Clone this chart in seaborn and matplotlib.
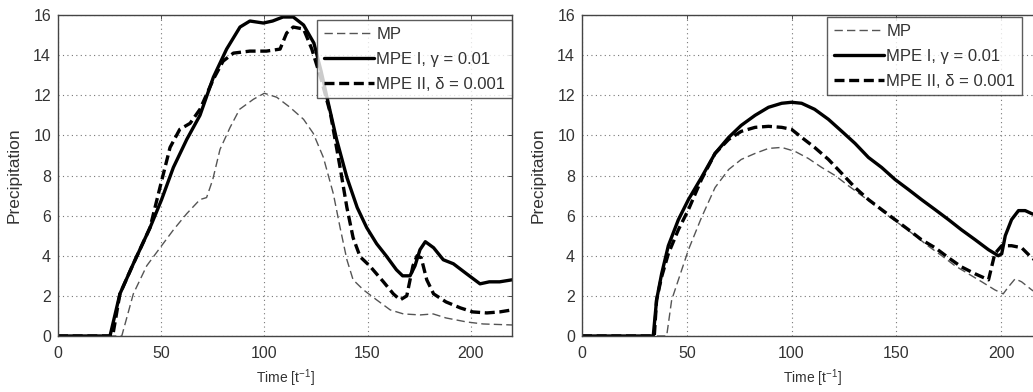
import matplotlib
matplotlib.use("Agg")
import matplotlib.pyplot as plt
import seaborn as sns

# ---------------- data ----------------
# Left panel
L_mp_x = [0, 30.9, 36.5, 43, 50.2, 56, 62.4, 68.8, 72, 75, 78.5, 83.4, 88, 94.7, 100, 106, 112.4, 119,
          123.7, 128.6, 133.4, 136.7, 140, 143, 148, 154.4, 161, 167.4, 175.4, 181.8, 188, 198, 206, 220]
L_mp_y = [0, 0, 2.1, 3.5, 4.5, 5.3, 6.1, 6.8, 6.9, 7.8, 9.3, 10.4, 11.3, 11.8, 12.1, 11.9, 11.4, 10.8,
          10.1, 8.9, 7.1, 5.4, 3.8, 2.8, 2.3, 1.8, 1.3, 1.1, 1.05, 1.1, 0.9, 0.7, 0.6, 0.55]

L_m1_x = [0, 25.2, 30, 36.5, 44.6, 50.2, 55.9, 62.4, 68.8, 75.3, 81.7, 88.2, 93, 99.5, 104, 109, 114,
          119, 124, 127.5, 131, 135, 140, 145, 149.6, 154.4, 159, 164, 167, 170.6, 173, 175.4, 178,
          182, 186.7, 191.6, 198, 204.5, 209, 214, 220]
L_m1_y = [0, 0, 2.1, 3.6, 5.4, 6.8, 8.4, 9.8, 11, 12.9, 14.3, 15.4, 15.7, 15.6, 15.7, 15.9, 15.9,
          15.5, 14.6, 13.2, 11.6, 9.8, 7.9, 6.4, 5.4, 4.6, 4.0, 3.3, 3.0, 3.0, 3.5, 4.3, 4.7,
          4.4, 3.8, 3.6, 3.1, 2.6, 2.7, 2.7, 2.8]

L_m2_x = [0, 26.5, 30, 36.5, 44.6, 49.4, 54.3, 59, 64, 68.8, 75.3, 80, 85, 93, 101, 107.6, 110.8, 114,
          119, 123, 127.5, 132, 136.7, 140, 143, 146.4, 151, 157.7, 162.5, 165.8, 169, 172, 174, 176,
          178.7, 182, 188, 195, 201, 207.8, 214, 220]
L_m2_y = [0, 0, 2.1, 3.6, 5.4, 7.4, 9.4, 10.3, 10.6, 11.3, 12.8, 13.7, 14.1, 14.2, 14.2, 14.3, 15.1, 15.4,
          15.3, 14.3, 12.8, 11.1, 8.4, 6.4, 4.9, 3.95, 3.5, 2.7, 2.1, 1.8, 2.0, 3.5, 4.0, 3.9,
          2.8, 2.1, 1.7, 1.4, 1.2, 1.15, 1.2, 1.3]

# Right panel
R_mp_x = [0, 40.4, 42.8, 46, 50.8, 57, 63.5, 70, 76, 82.6, 89, 95.3, 101.7, 108, 114.4, 120.8, 127,
          133.5, 140, 146, 152.6, 159, 165, 171.7, 178, 184.4, 190.8, 197, 201, 203.5, 206.7, 209.8,
          214.6, 216]
R_mp_y = [0, 0, 1.8, 2.8, 4.3, 5.9, 7.4, 8.3, 8.8, 9.1, 9.35, 9.4, 9.2, 8.85, 8.4, 8.0, 7.5,
          7.0, 6.5, 6.0, 5.5, 5.0, 4.5, 4.0, 3.5, 3.1, 2.7, 2.3, 2.1, 2.45, 2.85, 2.7,
          2.3, 2.2]

R_m1_x = [0, 34, 35.6, 38, 41.2, 46, 50.8, 57, 63.5, 70, 76, 82.6, 89, 95.3, 100, 104.8, 111, 117.6,
          124, 130.3, 136.7, 143, 149.4, 155.8, 162, 168.5, 174.9, 181, 187.6, 194, 198.7, 200.3,
          202, 205, 208.3, 211.5, 214.6, 216]
R_m1_y = [0, 0, 1.8, 3.1, 4.5, 5.8, 6.8, 7.9, 9.1, 9.9, 10.5, 11.0, 11.4, 11.6, 11.65, 11.6, 11.3, 10.8,
          10.2, 9.6, 8.9, 8.4, 7.8, 7.3, 6.8, 6.3, 5.8, 5.3, 4.8, 4.3, 4.0, 4.1,
          5.0, 5.8, 6.25, 6.25, 6.1, 6.05]

R_m2_x = [0, 34.5, 35.6, 38, 41.2, 46, 50.8, 57, 63.5, 70, 76, 82.6, 89, 95.3, 100, 104.8, 111, 117.6,
          124, 130.3, 136.7, 143, 149.4, 155.8, 162, 168.5, 174.9, 181, 187.6, 194, 195.5, 197,
          200.3, 205, 209.8, 214.6, 216]
R_m2_y = [0, 0, 1.8, 2.95, 4.1, 5.3, 6.3, 7.8, 9.1, 9.8, 10.2, 10.4, 10.45, 10.4, 10.3, 9.9, 9.4, 8.8,
          8.1, 7.4, 6.8, 6.3, 5.8, 5.3, 4.8, 4.4, 3.9, 3.45, 3.1, 2.8, 3.45, 4.1,
          4.5, 4.5, 4.4, 3.9, 3.8]

labels = ["MP", "MPE I, \u03b3 = 0.01", "MPE II, \u03b4 = 0.001"]
x_ticks = [0, 50, 100, 150, 200]
y_ticks = [0, 2, 4, 6, 8, 10, 12, 14, 16]
x_label = "Time [t$^{\\mathregular{-1}}$]"
y_label = "Precipitation"

# ---------------- style ----------------
sns.set_theme(style="white")
plt.rcParams["font.family"] = ["Liberation Sans", "DejaVu Sans"]
plt.rcParams["mathtext.fontset"] = "custom"
plt.rcParams["mathtext.rm"] = "Liberation Sans"

TXT = "#333333"
fig = plt.figure(figsize=(10.33, 3.92), dpi=100)
ax1 = fig.add_axes([58 / 1033, 56 / 392, 454 / 1033, 321 / 392])
ax2 = fig.add_axes([582 / 1033, 56 / 392, 461 / 1033, 321 / 392])

panels = [
    (ax1, (L_mp_x, L_mp_y), (L_m1_x, L_m1_y), (L_m2_x, L_m2_y), (512 / 1033, 372 / 392)),
    (ax2, (R_mp_x, R_mp_y), (R_m1_x, R_m1_y), (R_m2_x, R_m2_y), (1022 / 1033, 375 / 392)),
]

for ax, mp, m1, m2, leg_anchor in panels:
    sns.lineplot(x=mp[0], y=mp[1], ax=ax, color="#555555", lw=1.0,
                 label=labels[0], linestyle=(0, (6, 3)))
    sns.lineplot(x=m1[0], y=m1[1], ax=ax, color="black", lw=2.4, label=labels[1])
    sns.lineplot(x=m2[0], y=m2[1], ax=ax, color="black", lw=2.4,
                 label=labels[2], linestyle=(0, (3, 1.4)))

    ax.set_xlim(0, 220)
    ax.set_ylim(0, 16)
    ax.set_xticks(x_ticks)
    ax.set_yticks(y_ticks)
    ax.grid(True, linestyle=(0, (1, 3)), color="#777777", lw=0.8)
    ax.tick_params(direction="in", length=3, top=True, right=True, labelsize=11.5,
                   colors=TXT, width=0.6)
    ax.tick_params(axis="x", pad=7)
    ax.tick_params(axis="y", pad=5)
    for s in ax.spines.values():
        s.set_color("#444444")
        s.set_linewidth(1.0)
    ax.set_xlabel(x_label, fontsize=10, color=TXT, labelpad=5)
    ax.set_ylabel(y_label, fontsize=12.5, color=TXT, labelpad=8)
    leg = ax.legend(loc="upper right", bbox_to_anchor=leg_anchor,
                    bbox_transform=fig.transFigure, fontsize=12, frameon=True,
                    fancybox=False, handlelength=3.0, handletextpad=0.15,
                    labelspacing=0.6, borderpad=0.4, borderaxespad=0)
    leg.get_frame().set_edgecolor("#333333")
    leg.get_frame().set_linewidth(1.0)
    for t in leg.get_texts():
        t.set_color(TXT)

fig.savefig("out.png", dpi=100, facecolor="white")
